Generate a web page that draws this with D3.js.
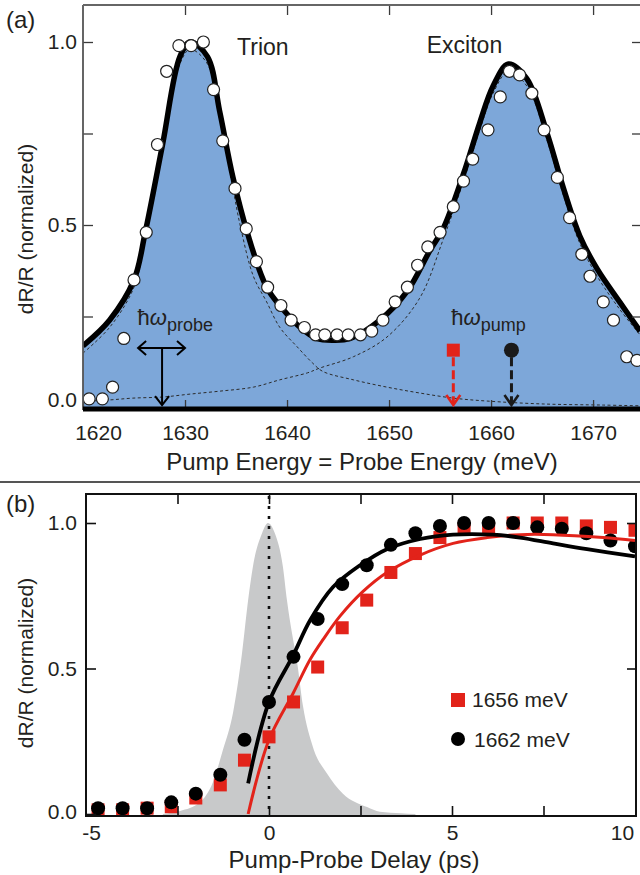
<!DOCTYPE html>
<html><head><meta charset="utf-8">
<script src="https://cdn.jsdelivr.net/npm/d3@7"></script>
<style>
body{margin:0;background:#fff}
svg{display:block}
text{font-family:Arial,"Liberation Sans",Helvetica,sans-serif;fill:#231f20}
</style>
</head><body>
<svg id="c" width="640" height="875"></svg>
<script>
// ---------------- DATA ----------------
// Panel (a): energy axis
const energyTicks = [1620, 1630, 1640, 1650, 1660, 1670];
const valueTicksA = [0, 0.25, 0.5, 0.75, 1.0];
// measured spectrum (open circles): [energy meV, dR/R]
const spectrumEnergy = [1620.6,1621.9,1622.9,1624.0,1625.0,1626.2,1627.3,1628.2,1629.4,1630.6,1631.8,1632.8,1633.7,1634.9,1636.0,1637.0,1638.1,1639.4,1640.4,1641.7,1642.8,1643.7,1644.9,1646.0,1647.2,1648.3,1649.4,1650.6,1651.8,1652.8,1653.8,1655.0,1656.3,1657.3,1658.2,1659.7,1660.9,1661.8,1662.8,1664.0,1665.2,1666.5,1667.7,1668.9,1669.7,1671.0,1672.0,1673.3,1674.3];
const spectrumValue  = [0.025,0.025,0.057,0.19,0.35,0.48,0.72,0.92,0.99,0.99,1.00,0.87,0.73,0.60,0.49,0.40,0.33,0.28,0.24,0.22,0.20,0.20,0.20,0.20,0.20,0.21,0.24,0.29,0.33,0.39,0.44,0.48,0.55,0.62,0.68,0.76,0.85,0.92,0.91,0.86,0.76,0.63,0.52,0.42,0.36,0.29,0.24,0.14,0.13];
// total fit (thick line / blue fill)
const fitEnergy = [1620,1622.6,1625,1626.1,1627.8,1629.5,1630.5,1632.2,1633.4,1634.7,1636.1,1638,1639.6,1641.3,1642.9,1644.5,1646.2,1649.1,1651.8,1654,1655.3,1657.3,1658.9,1660.2,1661.7,1663.5,1665.5,1667.1,1668.7,1670.4,1672.6,1674.6];
const fitValue  = [0.17,0.24,0.35,0.48,0.72,0.96,1.0,0.96,0.81,0.63,0.48,0.33,0.27,0.22,0.19,0.185,0.19,0.24,0.32,0.43,0.49,0.64,0.78,0.88,0.94,0.90,0.75,0.60,0.47,0.38,0.29,0.21];
// trion component (dashed)
const trionEnergy = [1620,1622.6,1625,1626.1,1627.8,1629.5,1630.5,1632.2,1633.4,1634.7,1635.4,1636.7,1638,1639.3,1641,1642.5,1643.5,1646.5,1649.8,1653,1656.3,1659.6,1665.1,1671,1674.6];
const trionValue  = [0.15,0.22,0.33,0.46,0.70,0.94,0.98,0.94,0.79,0.60,0.50,0.36,0.29,0.22,0.167,0.123,0.10,0.077,0.057,0.041,0.027,0.019,0.011,0.008,0.006];
// exciton component (dashed)
const excitonEnergy = [1620,1622.6,1624.9,1627.8,1630.5,1633.4,1636.7,1639.3,1642,1643.2,1646.5,1649.8,1653,1655.3,1657.3,1658.9,1660.2,1661.7,1663.5,1665.5,1667.1,1668.7,1670.4,1672.6,1674.6];
const excitonValue  = [0.018,0.022,0.027,0.03,0.038,0.046,0.057,0.077,0.096,0.109,0.14,0.194,0.30,0.46,0.62,0.76,0.86,0.92,0.88,0.73,0.58,0.45,0.36,0.27,0.20];
// annotations (data units)
const peakLabels = [{text:"Trion", e:1635.1, v:0.965}, {text:"Exciton", e:1653.7, v:0.97}];
const probeEnergy = 1627.75;
const pumpEnergies = [1656.3, 1662.0];
const pumpColors = ["#e2231a", "#1a1a1a"];

// Panel (b): delay axis
const delayTicks = [-5, -2.5, 0, 2.5, 5, 7.5, 10];
const delayLabels = [-5, 0, 5, 10];
const valueTicksB = [0, 0.5, 1.0];
const delays = [-4.67,-4,-3.33,-2.67,-2,-1.33,-0.67,0,0.67,1.33,2,2.67,3.33,4,4.67,5.33,6,6.67,7.33,8,8.67,9.33,10];
const data1656 = [0.014,0.014,0.02,0.025,0.055,0.10,0.185,0.265,0.385,0.505,0.64,0.735,0.83,0.895,0.95,0.98,0.98,1.0,1.0,1.0,0.99,0.985,0.975];
const data1662 = [0.02,0.02,0.02,0.04,0.07,0.135,0.255,0.385,0.54,0.67,0.79,0.855,0.925,0.965,0.99,1.0,1.0,1.0,0.985,0.98,0.965,0.94,0.92];
// fits
const fit1656Delay = [-0.57,0,0.66,1.12,1.48,1.94,2.57,3.22,4.13,5.03,5.96,6.86,7.76,9.13,10];
const fit1656Value = [0.0,0.255,0.415,0.53,0.60,0.68,0.765,0.83,0.89,0.93,0.95,0.96,0.96,0.95,0.94];
const fit1662Delay = [-0.57,0,0.66,1.12,1.75,2.49,3.22,4.13,5.03,6.12,6.86,7.76,8.69,10];
const fit1662Value = [0.105,0.385,0.545,0.665,0.78,0.855,0.91,0.945,0.96,0.96,0.95,0.93,0.91,0.885];
// pulse cross-correlation (grey)
const pulseDelay = [-2.9,-2.43,-1.89,-1.53,-1.26,-0.98,-0.74,-0.57,-0.44,-0.19,-0.03,0.16,0.38,0.49,0.63,0.77,0.93,1.2,1.58,2.02,2.68,3.03,3.6,4.0];
const pulseValue = [0,0.01,0.04,0.11,0.22,0.35,0.55,0.735,0.85,0.965,1.0,0.965,0.85,0.735,0.62,0.52,0.37,0.23,0.14,0.07,0.024,0.008,0.003,0];
const legendLabels = ["1656 meV", "1662 meV"];

// ---------------- DRAW ----------------
const svg = d3.select("#c");
const FONT = 'Arial, "Liberation Sans", Helvetica, sans-serif';
const zip = (a, b) => a.map((d, i) => [d, b[i]]);
const crv = d3.curveCatmullRom.alpha(0.5);
const axisCol = "#3a3a3a";

// ===== Panel (a) =====
const xA = d3.scaleLinear().domain([1620, 1674.6]).range([83, 640]);
const yA = d3.scaleLinear().domain([0, 1]).range([408, 42]);
const gA = svg.append("g");
gA.append("clipPath").attr("id", "clipA").append("rect")
  .attr("x", 83).attr("y", 5).attr("width", 557).attr("height", 405);
const plotA = gA.append("g").attr("clip-path", "url(#clipA)");

plotA.append("path").datum(zip(fitEnergy, fitValue))
  .attr("d", d3.area().x(d => xA(d[0])).y0(yA(0)).y1(d => yA(d[1])).curve(crv))
  .attr("fill", "#7da7d9");

const lineA = d3.line().x(d => xA(d[0])).y(d => yA(d[1])).curve(crv);
[zip(trionEnergy, trionValue), zip(excitonEnergy, excitonValue)].forEach(c => {
  plotA.append("path").datum(c).attr("d", lineA).attr("fill", "none")
    .attr("stroke", "#2b2b2b").attr("stroke-width", 1).attr("stroke-dasharray", "3,2.5");
});
plotA.append("path").datum(zip(fitEnergy, fitValue)).attr("d", lineA)
  .attr("fill", "none").attr("stroke", "#000").attr("stroke-width", 5.5);

plotA.selectAll("circle.pt").data(zip(spectrumEnergy, spectrumValue)).join("circle")
  .attr("class", "pt").attr("cx", d => xA(d[0])).attr("cy", d => yA(d[1])).attr("r", 6)
  .attr("fill", "#fff").attr("stroke", "#222").attr("stroke-width", 1.2);

// axes (a)
function styleAxis(g, size) {
  g.attr("font-family", FONT).attr("font-size", size).attr("color", axisCol);
  g.select(".domain").remove();
  g.selectAll(".tick line").attr("stroke-width", 1.3);
  g.selectAll("text").attr("fill", "#231f20");
}
gA.append("g").attr("transform", "translate(0,410)")
  .call(d3.axisBottom(xA).tickValues(energyTicks).tickSize(-10).tickSizeOuter(0).tickPadding(14.6).tickFormat(d => String(d)))
  .call(g => styleAxis(g, 21))
  .call(g => g.selectAll(".tick text").attr("dx", d => d === 1620 ? 15 : 0));
gA.append("g").attr("transform", "translate(0,5)")
  .call(d3.axisTop(xA).tickValues(energyTicks.slice(1)).tickSize(-10).tickSizeOuter(0).tickFormat(""))
  .call(g => styleAxis(g, 21));
gA.append("g").attr("transform", "translate(83,0)")
  .call(d3.axisLeft(yA).tickValues(valueTicksA).tickSize(-10).tickSizeOuter(0).tickPadding(6)
    .tickFormat(d => (d === 0 || d === 0.5 || d === 1) ? d.toFixed(1) : ""))
  .call(g => styleAxis(g, 21))
  .call(g => g.selectAll(".tick text").attr("dy", d => d === 0 ? "-0.05em" : "0.32em"));
gA.append("g").attr("transform", "translate(640,0)")
  .call(d3.axisRight(yA).tickValues(valueTicksA.slice(1)).tickSize(-8).tickSizeOuter(0).tickFormat(""))
  .call(g => styleAxis(g, 21));
// frame
gA.append("line").attr("x1", 83).attr("x2", 83).attr("y1", 5).attr("y2", 410).attr("stroke", "#555").attr("stroke-width", 1.8);
gA.append("line").attr("x1", 83).attr("x2", 640).attr("y1", 5).attr("y2", 5).attr("stroke", "#666").attr("stroke-width", 1.8);
gA.append("line").attr("x1", 83).attr("x2", 640).attr("y1", 409).attr("y2", 409).attr("stroke", "#000").attr("stroke-width", 5);

// peak labels
peakLabels.forEach(p => gA.append("text").attr("x", xA(p.e)).attr("y", yA(p.v))
  .attr("font-size", 23).text(p.text));

// probe annotation
function hbarLabel(x, y, sub) {
  const t = gA.append("text").attr("x", x).attr("y", y).attr("font-size", 22);
  t.append("tspan").text("\u0127");
  t.append("tspan").attr("font-style", "italic").text("\u03c9");
  t.append("tspan").attr("font-size", 18).attr("dy", 6).text(sub);
}
hbarLabel(xA(1625.35), yA(0.227), "probe");
hbarLabel(xA(1656.1), yA(0.227), "pump");

const pxProbe = xA(probeEnergy), yProbe = yA(0.164);
const arrG = gA.append("g").attr("stroke", "#000").attr("stroke-width", 2).attr("fill", "none");
arrG.append("line").attr("x1", xA(1625.4)).attr("x2", xA(1630.0)).attr("y1", yProbe).attr("y2", yProbe);
arrG.append("path").attr("d", `M${xA(1625.4) + 8},${yProbe - 7}L${xA(1625.4)},${yProbe}L${xA(1625.4) + 8},${yProbe + 7}`);
arrG.append("path").attr("d", `M${xA(1630.0) - 8},${yProbe - 7}L${xA(1630.0)},${yProbe}L${xA(1630.0) - 8},${yProbe + 7}`);
arrG.append("line").attr("x1", pxProbe).attr("x2", pxProbe).attr("y1", yProbe).attr("y2", yA(0.008));
arrG.append("path").attr("d", `M${pxProbe - 7},${yA(0.008) - 9}L${pxProbe},${yA(0.008)}L${pxProbe + 7},${yA(0.008) - 9}`);

// pump arrows
pumpEnergies.forEach((e, i) => {
  const px = xA(e), top = yA(0.158), bot = yA(0.008), col = pumpColors[i];
  const g = gA.append("g");
  g.append("line").attr("x1", px).attr("x2", px).attr("y1", top + 7).attr("y2", bot - 2)
    .attr("stroke", col).attr("stroke-width", 3).attr("stroke-dasharray", "9,4");
  g.append("path").attr("d", `M${px - 7},${bot - 10}L${px},${bot}L${px + 7},${bot - 10}`)
    .attr("stroke", col).attr("stroke-width", 2.6).attr("fill", "none");
  if (i === 0) g.append("rect").attr("x", px - 6.5).attr("y", top - 6.5).attr("width", 13).attr("height", 13).attr("fill", col);
  else g.append("circle").attr("cx", px).attr("cy", top).attr("r", 7.5).attr("fill", col);
});

// titles (a)
svg.append("text").attr("x", 6).attr("y", 28).attr("font-size", 24).text("(a)");
svg.append("text").attr("x", 362).attr("y", 470).attr("text-anchor", "middle").attr("font-size", 24)
  .text("Pump Energy = Probe Energy (meV)");
svg.append("text").attr("transform", "translate(33,229) rotate(-90)").attr("text-anchor", "middle")
  .attr("font-size", 21).text("dR/R (normalized)");

// separator
svg.append("line").attr("x1", 0).attr("x2", 640).attr("y1", 482).attr("y2", 482).attr("stroke", "#555").attr("stroke-width", 2);

// ===== Panel (b) =====
const xB = d3.scaleLinear().domain([-5, 10]).range([86, 635]);
const yB = d3.scaleLinear().domain([0, 1]).range([814, 523]);
const gB = svg.append("g");
gB.append("clipPath").attr("id", "clipB").append("rect")
  .attr("x", 86).attr("y", 494).attr("width", 550).attr("height", 322);
const plotB = gB.append("g").attr("clip-path", "url(#clipB)");

plotB.append("path").datum(zip(pulseDelay, pulseValue))
  .attr("d", d3.area().x(d => xB(d[0])).y0(yB(0) + 2).y1(d => yB(d[1])).curve(d3.curveMonotoneX))
  .attr("fill", "#c8c9ca");
plotB.append("line").attr("x1", xB(0)).attr("x2", xB(0)).attr("y1", 496).attr("y2", 816)
  .attr("stroke", "#111").attr("stroke-width", 2.6).attr("stroke-dasharray", "3,7");

plotB.selectAll("rect.sq").data(zip(delays, data1656)).join("rect").attr("class", "sq")
  .attr("x", d => xB(d[0]) - 6.5).attr("y", d => yB(d[1]) - 6.5).attr("width", 13).attr("height", 13)
  .attr("fill", "#e2231a");
plotB.selectAll("circle.ci").data(zip(delays, data1662)).join("circle").attr("class", "ci")
  .attr("cx", d => xB(d[0])).attr("cy", d => yB(d[1])).attr("r", 7).attr("fill", "#000");

const lineB = d3.line().x(d => xB(d[0])).y(d => yB(d[1])).curve(crv);
plotB.append("path").datum(zip(fit1656Delay, fit1656Value)).attr("d", lineB)
  .attr("fill", "none").attr("stroke", "#e2231a").attr("stroke-width", 3);
plotB.append("path").datum(zip(fit1662Delay, fit1662Value)).attr("d", lineB)
  .attr("fill", "none").attr("stroke", "#000").attr("stroke-width", 3.8);

// axes (b)
function styleAxisB(g) {
  g.attr("font-family", FONT).attr("font-size", 21).attr("color", "#111");
  g.select(".domain").remove();
  g.selectAll(".tick line").attr("stroke-width", 1.6);
  g.selectAll("text").attr("fill", "#231f20");
}
gB.append("g").attr("transform", "translate(0,816)")
  .call(d3.axisBottom(xB).tickValues(delayTicks.slice(1, -1)).tickSize(-10).tickSizeOuter(0).tickFormat(""))
  .call(styleAxisB);
gB.append("g").attr("transform", "translate(0,816)")
  .call(d3.axisBottom(xB).tickValues(delayLabels).tickSize(0).tickPadding(9).tickFormat(d => String(d)))
  .call(styleAxisB)
  .call(g => g.selectAll(".tick text").attr("dx", d => d === -5 ? 5 : d === 10 ? -13 : 0));
gB.append("g").attr("transform", "translate(0,494)")
  .call(d3.axisTop(xB).tickValues(delayTicks.slice(1, -1)).tickSize(-10).tickSizeOuter(0).tickFormat(""))
  .call(styleAxisB);
gB.append("g").attr("transform", "translate(86,0)")
  .call(d3.axisLeft(yB).tickValues(valueTicksB).tickSize(-10).tickSizeOuter(0).tickPadding(9).tickFormat(d => d.toFixed(1)))
  .call(styleAxisB)
  .call(g => g.selectAll(".tick text").attr("dy", d => d === 0 ? "0.22em" : "0.32em"));
gB.append("g").attr("transform", "translate(636,0)")
  .call(d3.axisRight(yB).tickValues(valueTicksB.slice(1)).tickSize(-9).tickSizeOuter(0).tickFormat(""))
  .call(styleAxisB);
gB.append("rect").attr("x", 86).attr("y", 494).attr("width", 550).attr("height", 322)
  .attr("fill", "none").attr("stroke", "#111").attr("stroke-width", 2);

// legend
const leg = gB.append("g");
leg.append("rect").attr("x", 451).attr("y", 693).attr("width", 14).attr("height", 14).attr("fill", "#e2231a");
leg.append("text").attr("x", 472).attr("y", 707).attr("font-size", 21).text(legendLabels[0]);
leg.append("circle").attr("cx", 458).attr("cy", 739).attr("r", 7).attr("fill", "#000");
leg.append("text").attr("x", 474).attr("y", 747).attr("font-size", 21).text(legendLabels[1]);

// titles (b)
svg.append("text").attr("x", 6).attr("y", 512).attr("font-size", 24).text("(b)");
svg.append("text").attr("x", 354).attr("y", 868).attr("text-anchor", "middle").attr("font-size", 24)
  .text("Pump-Probe Delay (ps)");
svg.append("text").attr("transform", "translate(33,663) rotate(-90)").attr("text-anchor", "middle")
  .attr("font-size", 21).text("dR/R (normalized)");
</script>
</body></html>
